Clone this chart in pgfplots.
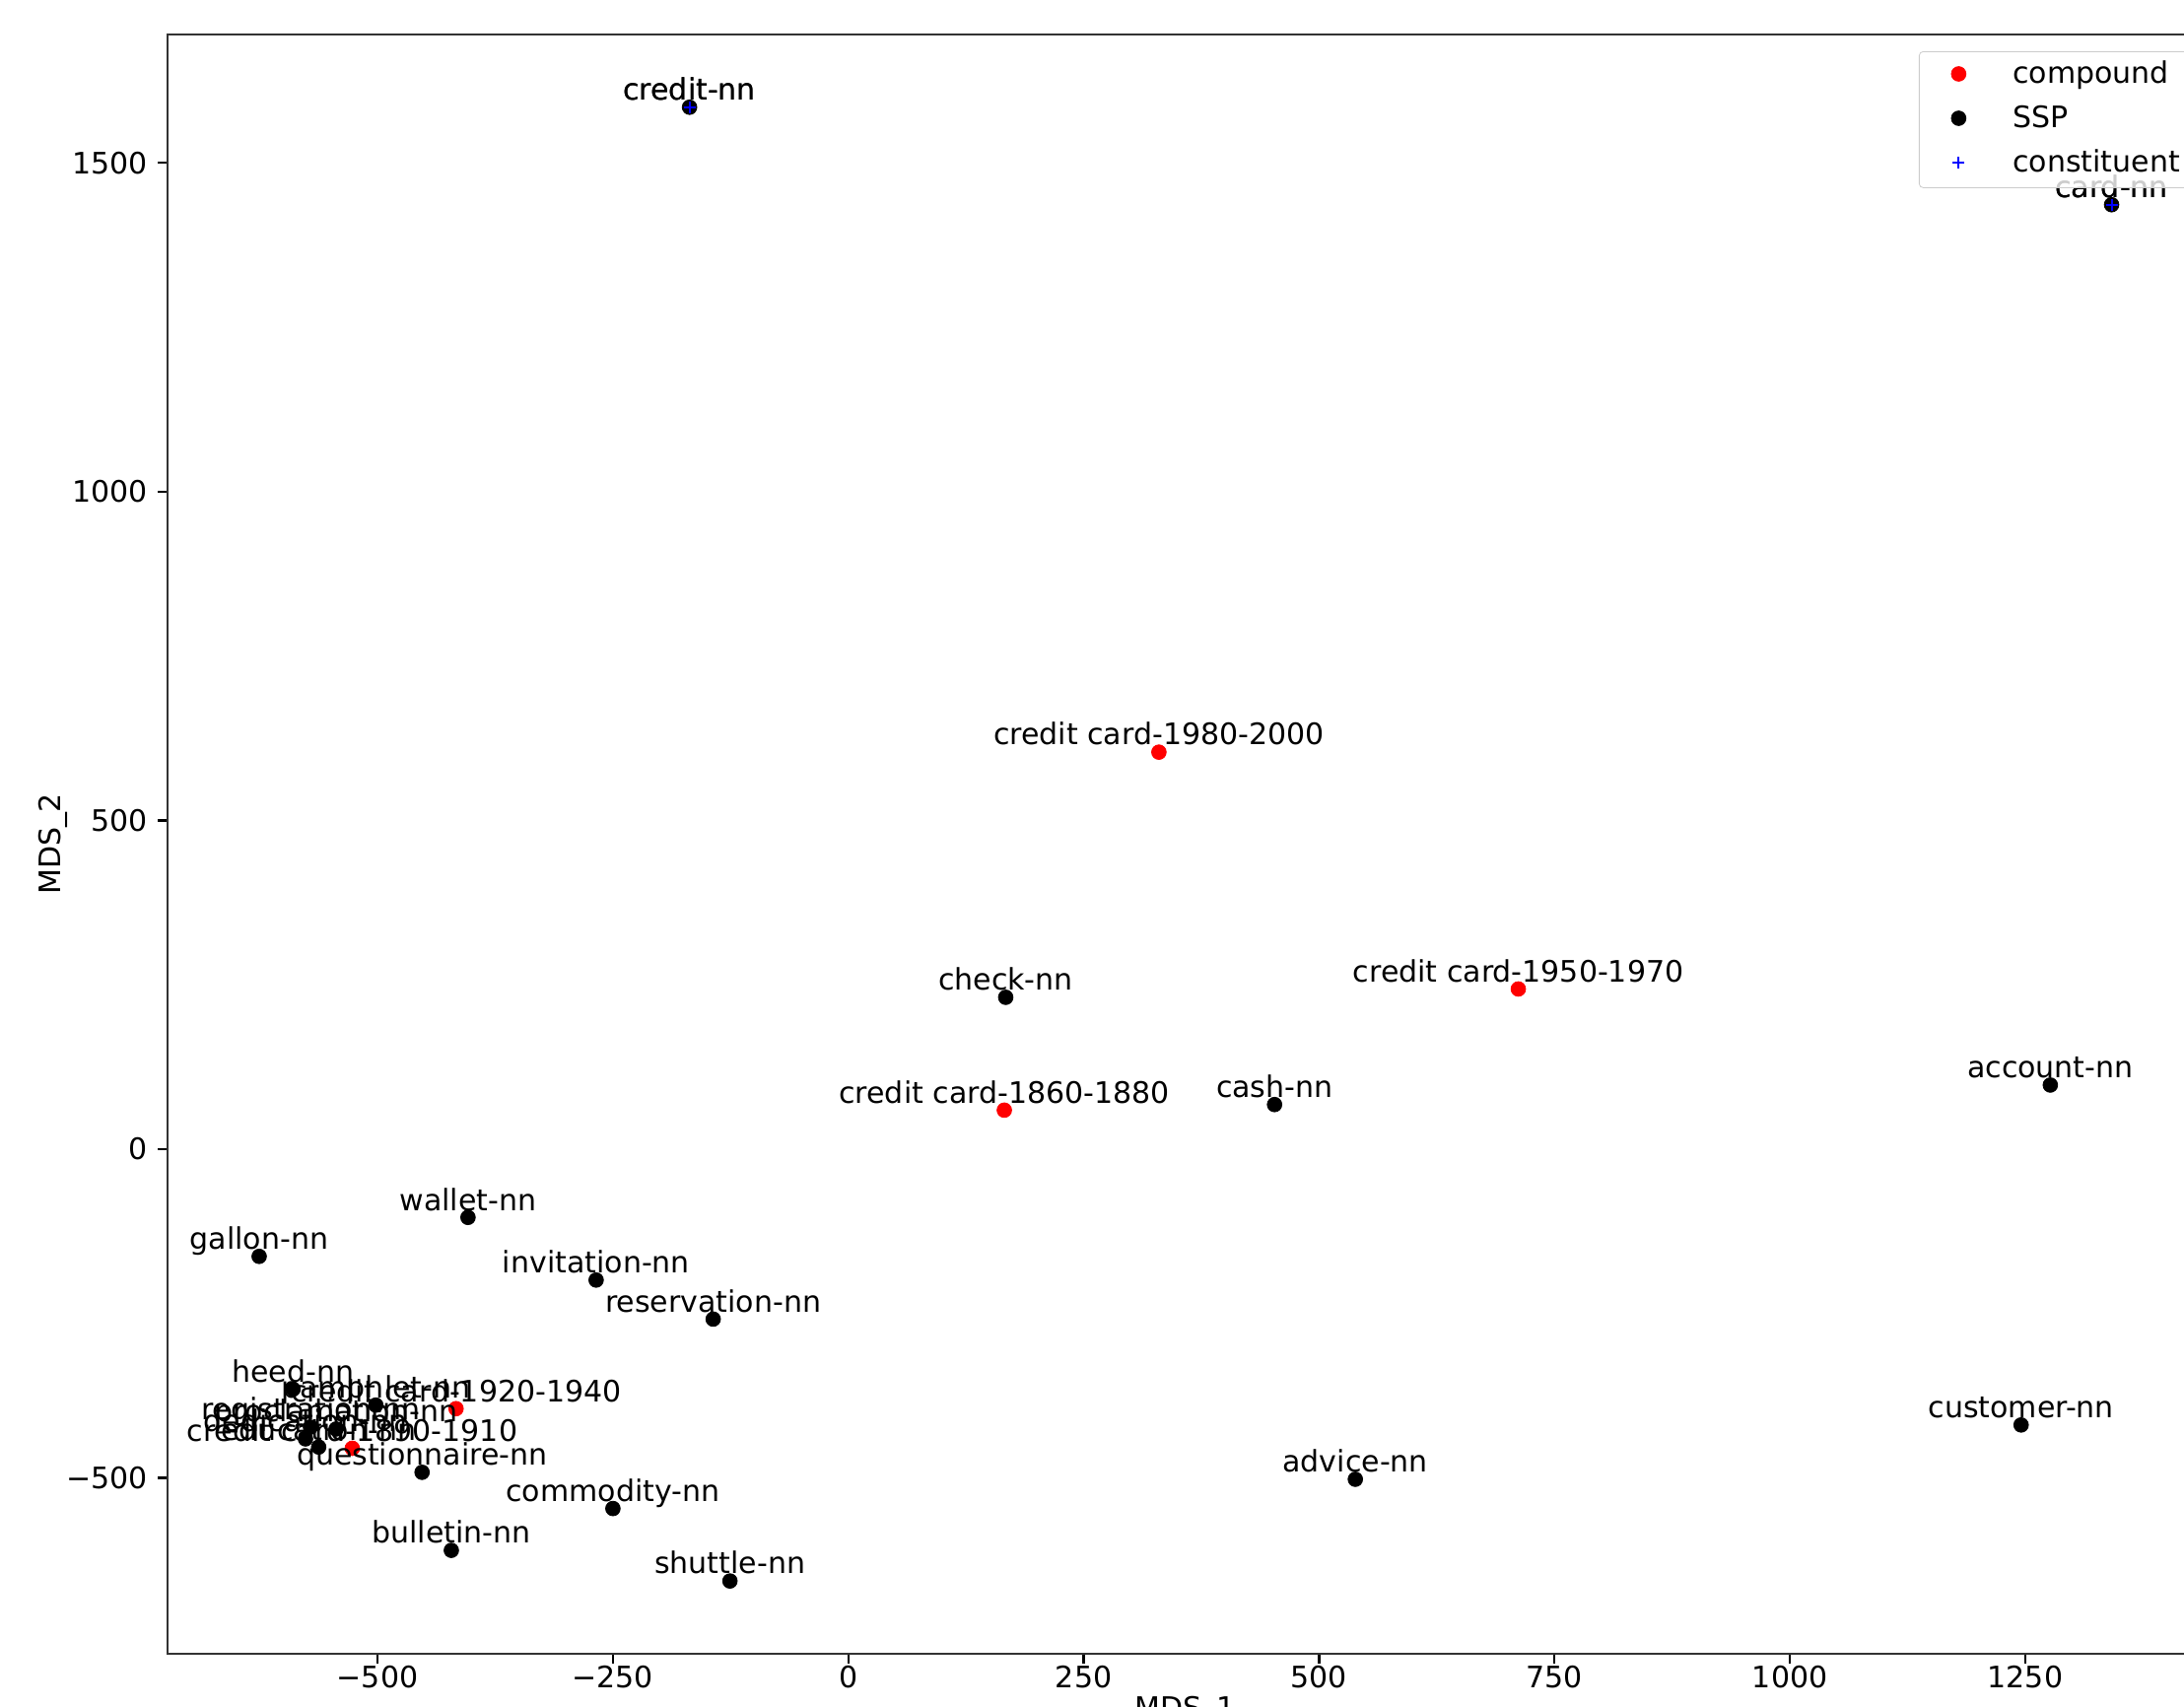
\documentclass[border=0pt]{standalone}
\usepackage{pgfplots}
\pgfplotsset{compat=1.18}
\usepackage{fontspec}
\setmainfont{DejaVu Sans}
\begin{document}
\begin{tikzpicture}
\begin{axis}[
  at={(85pt,27pt)}, anchor=south west,
  scale only axis, width=1033pt, height=821.35pt,
  xmin=-723, xmax=1439.5, ymin=-767.5, ymax=1694.9,
  font=\fontsize{15}{18}\selectfont,
  axis line style={line width=1.1pt, black!80},
  tick style={line width=1.1pt, black},
  major tick length=4.9pt,
  tick align=outside, tick pos=left,
  xtick={-500,-250,0,250,500,750,1000,1250},
  xticklabels={−500,−250,0,250,500,750,1000,1250},
  ytick={-500,0,500,1000,1500},
  yticklabels={−500,0,500,1000,1500},
  xticklabel style={inner sep=0pt, yshift=-0.8pt},
  yticklabel style={inner sep=0pt, xshift=-5pt},
  xlabel={MDS\_1}, ylabel={MDS\_2},
  xlabel style={at={(axis description cs:0.5,-0.0262)}, anchor=north, inner sep=0pt},
  ylabel style={at={(axis description cs:-0.0561,0.5)}, anchor=center, rotate=0, inner sep=0pt},
  nodes near coords,
  point meta=explicit symbolic,
  nodes near coords style={anchor=base, inner sep=0pt, yshift=3.6pt, text=black, font=\fontsize{15}{18}\selectfont},
  legend cell align=left,
  legend image code/.code={\path (0pt,0.7pt) (28pt,0.7pt); \draw[opacity=1, mark repeat=2,mark phase=2] plot coordinates {(0pt,0.7pt)(14pt,0.7pt)(28pt,0.7pt)};},
  legend style={at={(axis description cs:0.8601,0.9898)}, anchor=north west,
    draw=black!20, rounded corners=2pt, fill=white, fill opacity=0.8, text opacity=1, draw opacity=1,
    inner xsep=5.5pt, inner ysep=5pt, column sep=13pt, row sep=8.5pt,
    nodes={inner sep=0pt, text height=11pt, text depth=3pt},
    font=\fontsize{15}{18}\selectfont},
]
\addplot[only marks, mark=*, mark size=3.7pt, color=red, mark options={draw=red, fill=red}]
  table[col sep=comma, x=x, y=y, meta=label] {
x,y,label
329.9,603.8,credit card-1980-2000
711.6,243.6,credit card-1950-1970
165.7,59.3,credit card-1860-1880
-416.6,-394.7,credit card-1920-1940
-526.8,-455.0,credit card-1890-1910
};
\addlegendentry{compound}
\addplot[only marks, mark=*, mark size=3.7pt, color=black, mark options={draw=black, fill=black}]
  table[col sep=comma, x=x, y=y, meta=label] {
x,y,label
-168.6,1584.7,credit-nn
1341.7,1436.4,card-nn
167.2,230.9,check-nn
452.7,67.8,cash-nn
1276.6,97.5,account-nn
-403.9,-103.8,wallet-nn
-625.7,-163.1,gallon-nn
-267.8,-199.1,invitation-nn
-143.5,-258.5,reservation-nn
1245.6,-419.5,customer-nn
538.5,-502.1,advice-nn
-250.0,-546.6,commodity-nn
-421.6,-610.2,bulletin-nn
-125.7,-656.8,shuttle-nn
-452.7,-491.5,questionnaire-nn
-589.7,-365.0,heed-nn
-501.8,-389.3,pamphlet-nn
-544.0,-425.7,proclamation-nn
-571.2,-422.7,registration-nn
-576.5,-440.7,dedication-nn
-562.5,-453.1,education-nn
};
\addlegendentry{SSP}
\addplot[only marks, mark=+, mark size=3pt, color=blue, line width=1pt]
  table[col sep=comma, x=x, y=y, meta=label] {
x,y,label
-168.6,1584.7,credit-nn
1341.7,1436.4,card-nn
};
\addlegendentry{constituent}
\end{axis}
\pgfresetboundingbox
\useasboundingbox (0,0) rectangle (1108pt,866pt);
\end{tikzpicture}
\end{document}
